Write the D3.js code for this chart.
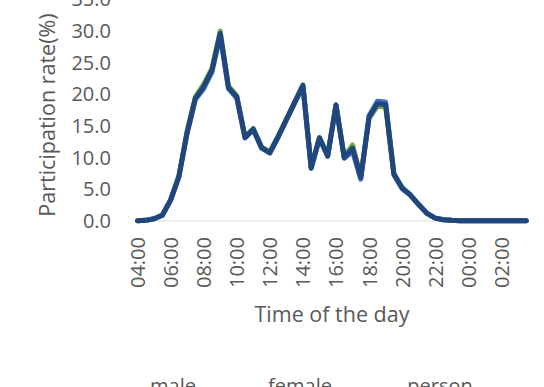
<!DOCTYPE html>
<html>
<head>
	<title>Participation rate</title>
	<meta charset='utf-8'>
	<style>
		body {
			margin: 0;
			background: #fff;
			overflow: hidden;
		}

		text {
			font-family: 'Open Sans', sans-serif;
			fill: #595959;
		}

		.line {
			fill: none;
			stroke-width: 5px;
			stroke-linejoin: round;
			stroke-linecap: round;
		}

		.axis path, .axis line {
			display: none;
		}

		.baseline {
			stroke: #d9d9d9;
			stroke-width: 1px;
		}
	</style>
</head>
<body>

<script src='https://d3js.org/d3.v7.min.js'></script>
<script>
	'use strict';

	// время суток, шаг 30 минут
	const times = [
		'04:00', '04:30', '05:00', '05:30', '06:00', '06:30', '07:00', '07:30',
		'08:00', '08:30', '09:00', '09:30', '10:00', '10:30', '11:00', '11:30',
		'12:00', '12:30', '13:00', '13:30', '14:00', '14:30', '15:00', '15:30',
		'16:00', '16:30', '17:00', '17:30', '18:00', '18:30', '19:00', '19:30',
		'20:00', '20:30', '21:00', '21:30', '22:00', '22:30', '23:00', '23:30',
		'00:00', '00:30', '01:00', '01:30', '02:00', '02:30', '03:00', '03:30'
	];

	const male = [
		0.05, 0.1, 0.35, 0.9, 3.3, 7.0, 14.2, 19.6,
		21.6, 24.1, 30.0, 21.3, 19.8, 13.3, 14.6, 11.7,
		10.9, 13.4, 16.1, 18.8, 21.5, 8.5, 13.2, 10.4,
		18.3, 10.1, 12.0, 7.1, 16.2, 18.1, 18.0, 7.5,
		5.3, 4.1, 2.6, 1.2, 0.45, 0.2, 0.1, 0.05,
		0.04, 0.04, 0.03, 0.03, 0.03, 0.03, 0.03, 0.03
	];

	const female = [
		0.05, 0.1, 0.35, 0.9, 3.3, 7.0, 13.8, 19.2,
		20.9, 23.5, 29.3, 20.9, 19.4, 13.1, 14.4, 11.5,
		10.7, 13.2, 15.9, 18.6, 21.3, 8.3, 13.0, 10.2,
		18.3, 9.9, 11.0, 6.6, 16.6, 18.9, 18.8, 7.3,
		5.1, 4.1, 2.6, 1.2, 0.45, 0.2, 0.1, 0.05,
		0.04, 0.04, 0.03, 0.03, 0.03, 0.03, 0.03, 0.03
	];

	const person = [
		0.05, 0.1, 0.35, 0.9, 3.3, 7.0, 14.0, 19.4,
		21.2, 23.8, 29.6, 21.1, 19.6, 13.2, 14.5, 11.6,
		10.8, 13.3, 16.0, 18.7, 21.4, 8.4, 13.1, 10.3,
		18.3, 10.0, 11.5, 6.9, 16.4, 18.5, 18.4, 7.4,
		5.2, 4.1, 2.6, 1.2, 0.45, 0.2, 0.1, 0.05,
		0.04, 0.04, 0.03, 0.03, 0.03, 0.03, 0.03, 0.03
	];

	const yTicks = [0, 5, 10, 15, 20, 25, 30, 35];
	const xTickLabels = ['04:00', '06:00', '08:00', '10:00', '12:00', '14:00',
		'16:00', '18:00', '20:00', '22:00', '00:00', '02:00'];

	const seriesNames = ['male', 'female', 'person'];
	const seriesColors = ['#70ad47', '#4472c4', '#21457d'];

	const width = 544;
	const height = 387;

	const x0 = 137.5;
	const x1 = 526.2;
	const yBottom = 221;
	const yTop = -0.7;

	const xScale = d3.scalePoint().domain(times).range([x0, x1]);
	const yScale = d3.scaleLinear().domain([0, 35]).range([yBottom, yTop]);

	const svg = d3.select('body').append('svg')
		.attr('width', width)
		.attr('height', height);

	// Ось Y, только подписи
	svg.append('g')
		.attr('class', 'axis axis__y')
		.attr('transform', 'translate(' + 120 + ',0)')
		.call(d3.axisLeft(yScale)
			.tickValues(yTicks)
			.tickFormat(d3.format('.1f'))
			.tickSize(0)
			.tickPadding(9))
		.call(function(g) {
			g.selectAll('text')
				.style('font-size', '20px')
				.attr('fill', '#595959');
		});

	// Базовая линия
	svg.append('line')
		.attr('class', 'baseline')
		.attr('x1', x0)
		.attr('x2', x1)
		.attr('y1', yBottom)
		.attr('y2', yBottom);

	// Ось X, повёрнутые подписи
	svg.append('g')
		.attr('class', 'axis axis__x')
		.attr('transform', 'translate(0,' + yBottom + ')')
		.call(d3.axisBottom(xScale)
			.tickValues(xTickLabels)
			.tickSize(0))
		.call(function(g) {
			g.selectAll('text')
				.style('font-size', '20px')
				.attr('fill', '#595959')
				.attr('transform', 'rotate(-90)')
				.attr('text-anchor', 'end')
				.attr('x', -16)
				.attr('y', 0)
				.attr('dy', '0.35em');
		});

	const valueline = d3.line()
		.x(function(d, i) {return xScale(times[i]);})
		.y(function(d) {return yScale(d);});

	const allSeries = [male, female, person];
	allSeries.forEach(function(data, i) {
		svg.append('path')
			.datum(data)
			.attr('class', 'line')
			.attr('stroke', seriesColors[i])
			.attr('d', valueline);
	});

	// Подписи осей
	svg.append('text')
		.attr('transform', 'translate(' + 55 + ',' + 115 + ') rotate(-90)')
		.attr('text-anchor', 'middle')
		.style('font-size', '21.5px')
		.text('Participation rate(%)');

	svg.append('text')
		.attr('x', 332)
		.attr('y', 322)
		.attr('text-anchor', 'middle')
		.style('font-size', '21.5px')
		.text('Time of the day');

	// Легенда (обрезана снизу)
	const legendX = [173, 300, 440];
	seriesNames.forEach(function(name, i) {
		svg.append('text')
			.attr('x', legendX[i])
			.attr('y', 393)
			.attr('text-anchor', 'middle')
			.style('font-size', '20px')
			.text(name);
	});

</script>
</body>
</html>
